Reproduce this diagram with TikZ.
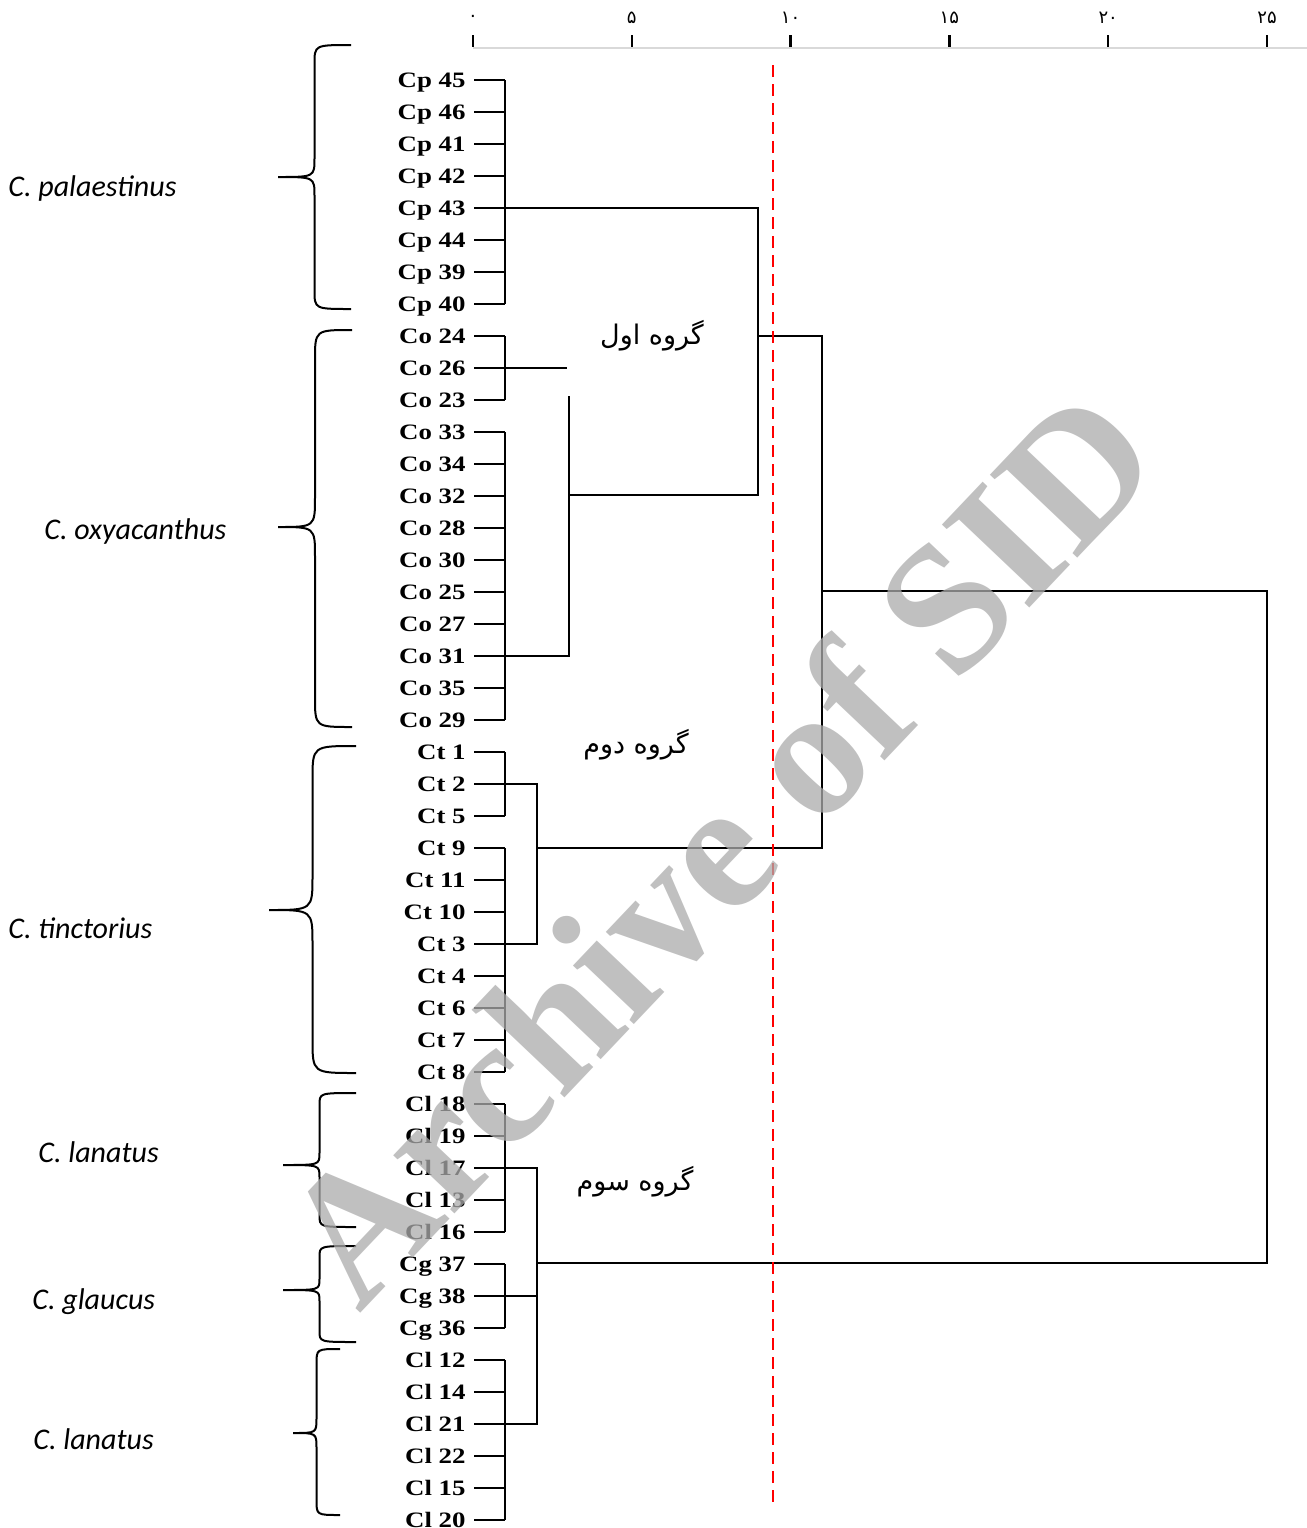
\documentclass[tikz,border=0pt]{standalone}
\usepackage{fontspec}
\setmainfont{Liberation Serif}
\newfontfamily\leaffont[FakeStretch=1.22]{Liberation Serif}
\newfontfamily\specfont{Carlito}
\newfontfamily\farsi[Script=Arabic]{DejaVu Sans}
\TeXXeTstate=1

\tikzset{
  link/.style={line width=0.75pt},
  brace/.style={line width=1pt},
  leaf/.style={anchor=east, inner xsep=4pt, inner ysep=0pt,
    text height=7.4pt, text depth=0pt,
    font=\leaffont\bfseries\fontsize{11}{13}\selectfont},
  species/.style={anchor=west, inner sep=0pt, text height=9.6pt, text depth=0pt,
    font=\specfont\itshape\fontsize{15}{18}\selectfont},
  grouplab/.style={inner sep=0pt, font=\farsi\fontsize{13.5}{16}\selectfont},
  axislab/.style={inner sep=0pt, font=\farsi\fontsize{9}{11}\selectfont},
  tickmark/.style={line width=1.2pt},
  cutline/.style={red, line width=1.2pt, dash pattern=on 5.8pt off 3.7pt}
}

% left brace: end x, tip x, top y, tip y, bottom y, hook size
\newcommand{\specbrace}[6]{%
  \draw[brace] (#1,#3) .. controls ({(#1+#2)/2},#3) .. ({(#1+#2)/2},#3+#6)
    -- ({(#1+#2)/2},#4-#6) .. controls ({(#1+#2)/2},#4) .. (#2,#4)
    .. controls ({(#1+#2)/2},#4) .. ({(#1+#2)/2},#4+#6)
    -- ({(#1+#2)/2},#5-#6) .. controls ({(#1+#2)/2},#5) .. (#1,#5);}

\begin{document}
\begin{tikzpicture}[x=0.5pt,y=-0.5pt]
\useasboundingbox (0,0) rectangle (1307,1528);

% scale
\draw[black!15, line width=0.6pt] (473,48) -- (1307,48);
\foreach \v [count=\k from 0] in {۰,۵,۱۰,۱۵,۲۰,۲۵}{
  \draw[tickmark] ({473+158.8*\k},35) -- ({473+158.8*\k},47);
  \node[axislab] (ax\k) at ({473+158.8*\k},18) {\v};
}

% leaves
\foreach \lab [count=\i] in {Cp 45,Cp 46,Cp 41,Cp 42,Cp 43,Cp 44,Cp 39,Cp 40,
    Co 24,Co 26,Co 23,Co 33,Co 34,Co 32,Co 28,Co 30,Co 25,Co 27,Co 31,Co 35,Co 29,
    Ct 1,Ct 2,Ct 5,Ct 9,Ct 11,Ct 10,Ct 3,Ct 4,Ct 6,Ct 7,Ct 8,
    Cl 18,Cl 19,Cl 17,Cl 13,Cl 16,Cg 37,Cg 38,Cg 36,
    Cl 12,Cl 14,Cl 21,Cl 22,Cl 15,Cl 20}{
  \node[leaf] (l\i) at (474,{80+32*(\i-1)}) {\lab};
  \coordinate (s\i) at (505,{80+32*(\i-1)});
  \draw[link] (l\i.east) -- (s\i);
}
\foreach \a/\b in {1/8,9/11,12/21,22/24,25/32,33/37,38/40,41/46}
  \draw[link] (s\a) -- (s\b);

% joins
\coordinate (co1) at (567,368);
\coordinate (co2t) at (569,396);
\coordinate (co2m) at (569,495);
\coordinate (co2b) at (569,656);
\coordinate (g1t) at (758,208);
\coordinate (g1m) at (758,336);
\coordinate (g1b) at (758,495);
\coordinate (ctt) at (537,784);
\coordinate (ctm) at (537,848);
\coordinate (ctb) at (537,944);
\coordinate (g2t) at (822,336);
\coordinate (g2m) at (822,591);
\coordinate (g2b) at (822,848);
\coordinate (clt) at (537,1168);
\coordinate (clm) at (537,1263);
\coordinate (cgm) at (537,1296);
\coordinate (clb) at (537,1424);
\coordinate (roott) at (1267,591);
\coordinate (rootb) at (1267,1263);

\draw[link] (s10) -- (co1);
\draw[link] (s19) -- (co2b) -- (co2t);
\draw[link] (s5) -- (g1t) -- (g1b) -- (co2m);
\draw[link] (s23) -- (ctt) -- (ctb) -- (s28);
\draw[link] (g1m) -- (g2t) -- (g2b) -- (ctm);
\draw[link] (s35) -- (clt) -- (clb) -- (s43);
\draw[link] (s39) -- (cgm);
\draw[link] (g2m) -- (roott) -- (rootb) -- (clm);

% cut level
\coordinate (cutt) at (773,65);
\coordinate (cutb) at (773,1505);
\draw[cutline] (cutt) -- (cutb);

% group names
\node[grouplab] (gr1) at (652,336) {\beginR گروه اول\endR};
\node[grouplab] (gr2) at (636,745) {\beginR گروه دوم\endR};
\node[grouplab] (gr3) at (635,1182) {\beginR گروه سوم\endR};

% species braces
\specbrace{351}{278}{45}{177}{309}{19}
\specbrace{352}{278}{330}{527}{727}{30}
\specbrace{356}{269}{746}{910}{1073}{34}
\specbrace{356}{283}{1093}{1165}{1227}{12}
\specbrace{356}{283}{1246}{1290}{1342}{11}
\specbrace{340}{293}{1349}{1433}{1515}{15}

\node[species] (sp1) at (8,187) {C. palaestinus};
\node[species] (sp2) at (44,530) {C. oxyacanthus};
\node[species] (sp3) at (8,929) {C. tinctorius};
\node[species] (sp4) at (38,1153) {C. lanatus};
\node[species] (sp5) at (32,1300) {C. glaucus};
\node[species] (sp6) at (33,1440) {C. lanatus};

% watermark
\node[rotate=46.5, text=black!33, opacity=0.75, inner sep=0pt,
  font=\bfseries\fontsize{92}{94}\selectfont] (wm) at (717,845) {Archive of SID};
\end{tikzpicture}
\end{document}
